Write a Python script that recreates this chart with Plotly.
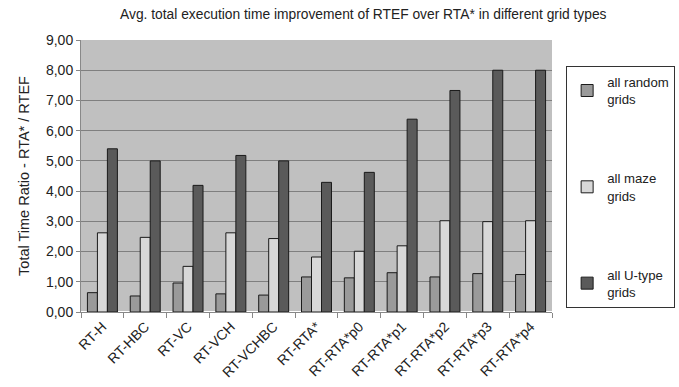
import plotly.graph_objects as go

categories = ["RT-H", "RT-HBC", "RT-VC", "RT-VCH", "RT-VCHBC", "RT-RTA*",
              "RT-RTA*p0", "RT-RTA*p1", "RT-RTA*p2", "RT-RTA*p3", "RT-RTA*p4"]
random_grids = [0.64, 0.53, 0.96, 0.60, 0.56, 1.16, 1.13, 1.30, 1.16, 1.27, 1.24]
maze_grids = [2.62, 2.47, 1.51, 2.62, 2.43, 1.82, 2.01, 2.19, 3.02, 2.99, 3.02]
utype_grids = [5.40, 5.00, 4.19, 5.18, 5.00, 4.29, 4.62, 6.38, 7.33, 8.00, 8.00]

series = [
    ("all random<br>grids", random_grids, "#9a9a9a", "g1"),
    ("all maze<br>grids", maze_grids, "#d8d8d8", "g2"),
    ("all U-type<br>grids", utype_grids, "#5a5a5a", "g3"),
]

fig = go.Figure()
for name, vals, color, grp in series:
    fig.add_trace(go.Bar(
        x=categories, y=vals, name=name, legendgroup=grp,
        marker=dict(color=color, line=dict(color="#1a1a1a", width=1)),
    ))

font = "Liberation Sans"
fig.update_layout(
    width=679, height=387,
    margin=dict(l=81, r=127, t=40, b=75, autoexpand=False),
    paper_bgcolor="white", plot_bgcolor="#c0c0c0",
    separators=",.",
    barmode="group", bargap=0.3, bargroupgap=0,
    font=dict(family=font, size=13, color="#222222"),
    title=dict(text="Avg. total execution time improvement of RTEF over RTA* in different grid types",
               x=0.535, xanchor="center", y=0.963, yanchor="middle",
               font=dict(family=font, size=13.8, color="#222222")),
    legend=dict(x=1.03, y=0.905, xanchor="left", yanchor="top",
                bordercolor="#333333", borderwidth=1, bgcolor="white",
                traceorder="grouped", tracegroupgap=59,
                font=dict(family=font, size=13.2, color="#222222"),
                itemwidth=30),
    showlegend=True,
)
fig.update_xaxes(
    tickangle=-45, tickson="boundaries", ticks="outside", ticklen=5,
    tickcolor="#888888", showline=True, linecolor="#888888",
    tickfont=dict(family=font, size=14), showgrid=False,
)
fig.update_yaxes(
    range=[0, 9], dtick=1, tickformat=".2f", ticks="outside", ticklen=4,
    tickcolor="#888888", showline=True, linecolor="#888888",
    gridcolor="#7f7f7f", gridwidth=1,
    tickfont=dict(family=font, size=14),
    title=dict(text="Total Time Ratio - RTA* / RTEF", font=dict(family=font, size=14.5), standoff=12),
)

fig.write_html("out.html")
